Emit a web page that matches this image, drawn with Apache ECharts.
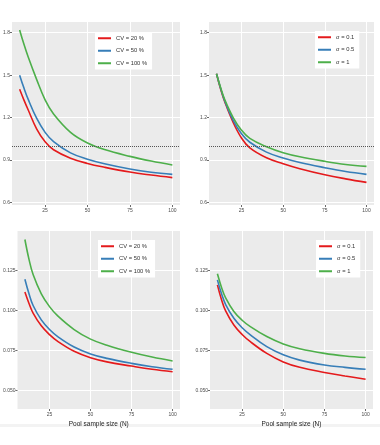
<!DOCTYPE html>
<html><head><meta charset="utf-8">
<script src="https://cdn.jsdelivr.net/npm/echarts@6/dist/echarts.min.js"></script>
<style>html,body{margin:0;padding:0;background:#fff}#c{width:380px;height:445px}</style>
</head><body><div id="c"></div>
<script>
// ---- data ----
const xN = [10, 12.5, 15, 20, 25, 30, 40, 50, 60, 75, 87.5, 100];
const cvNames = ['CV = 20 %', 'CV = 50 %', 'CV = 100 %'];
const sigmaNames = ['σ = 0.1', 'σ = 0.5', 'σ = 1'];

// top-left (CV)
const tlCv20  = [1.40, 1.325, 1.255, 1.12, 1.028, 0.972, 0.912, 0.875, 0.848, 0.814, 0.793, 0.775];
const tlCv50  = [1.50, 1.41, 1.33, 1.195, 1.095, 1.030, 0.950, 0.905, 0.873, 0.836, 0.813, 0.798];
const tlCv100 = [1.82, 1.72, 1.63, 1.47, 1.325, 1.225, 1.095, 1.02, 0.973, 0.925, 0.892, 0.864];
// top-right (sigma)
const trS01 = [1.51, 1.40, 1.31, 1.165, 1.055, 0.985, 0.915, 0.873, 0.838, 0.795, 0.766, 0.741];
const trS05 = [1.51, 1.405, 1.315, 1.18, 1.085, 1.025, 0.955, 0.914, 0.882, 0.845, 0.818, 0.798];
const trS1  = [1.51, 1.41, 1.325, 1.20, 1.11, 1.052, 0.993, 0.951, 0.922, 0.89, 0.868, 0.854];
// bottom-left (CV)
const blCv20  = [0.1116, 0.1045, 0.0985, 0.0905, 0.0850, 0.0808, 0.0746, 0.0706, 0.0680, 0.0654, 0.0634, 0.0618];
const blCv50  = [0.1196, 0.1105, 0.1032, 0.0942, 0.0882, 0.0838, 0.0773, 0.0730, 0.0702, 0.0671, 0.0650, 0.0634];
const blCv100 = [0.1444, 0.1320, 0.1225, 0.1105, 0.1025, 0.0967, 0.0882, 0.0822, 0.0784, 0.0740, 0.0710, 0.0686];
// bottom-right (sigma)
const brS01 = [0.1161, 0.1068, 0.0998, 0.0910, 0.0851, 0.0806, 0.0733, 0.0680, 0.0646, 0.0614, 0.0592, 0.0572];
const brS05 = [0.1192, 0.1105, 0.1038, 0.0952, 0.0893, 0.0849, 0.0775, 0.0724, 0.0691, 0.0661, 0.0646, 0.0634];
const brS1  = [0.1230, 0.1145, 0.1080, 0.0995, 0.0940, 0.0900, 0.0838, 0.0792, 0.0762, 0.0733, 0.0717, 0.0707];

const xTicks = [25, 50, 75, 100];
const topYTicks = [0.6, 0.9, 1.2, 1.5, 1.8];
const botYTicks = [0.050, 0.075, 0.100, 0.125];
const refLine = 1.0;
const xTitle = 'Pool sample size (N)';

// ---- chart ----
const colors = ['#e41a1c', '#377eb8', '#4daf4a'];
const FONT = 'Liberation Sans';
const chart = echarts.init(document.getElementById('c'), null, {renderer: 'canvas'});

const grids = [
  {left: 12, top: 22, width: 168, height: 183},
  {left: 209, top: 22, width: 165, height: 183},
  {left: 16, top: 231, width: 164, height: 178},
  {left: 210, top: 231, width: 163, height: 178}
].map(g => Object.assign(g, {show: true, backgroundColor: '#ebebeb', borderWidth: 0, containLabel: false}));

function xAxis(i, withTitle) {
  return {
    type: 'value', gridIndex: i, min: 5.5, max: 104.5,
    axisLine: {show: false},
    axisTick: {show: true, length: 2, customValues: xTicks, lineStyle: {color: '#444', width: 0.8}},
    axisLabel: {customValues: xTicks, fontSize: 5, color: '#4d4d4d', margin: 3, fontFamily: FONT},
    splitLine: {show: true, lineStyle: {color: '#ffffff', width: 1}},
    name: withTitle ? xTitle : '',
    nameLocation: 'middle', nameGap: 12,
    nameTextStyle: {fontSize: 6.5, color: '#222', fontFamily: FONT}
  };
}
function yAxis(i, ticks, min, max, dec) {
  return {
    type: 'value', gridIndex: i, min: min, max: max,
    axisLine: {show: false},
    axisTick: {show: true, length: 2, customValues: ticks, lineStyle: {color: '#444', width: 0.8}},
    axisLabel: {customValues: ticks, fontSize: 5, color: '#4d4d4d', margin: 2, fontFamily: FONT,
      formatter: v => Number(v).toFixed(dec)},
    splitLine: {show: true, lineStyle: {color: '#ffffff', width: 1}}
  };
}

function mkSeries(name, arr, idx, color, withRef) {
  const s = {
    type: 'line', name: name, xAxisIndex: idx, yAxisIndex: idx,
    data: xN.map((x, i) => [x, arr[i]]),
    smooth: 0.4, showSymbol: false, symbol: 'none',
    lineStyle: {width: 1.6, color: color}, itemStyle: {color: color},
    z: 3
  };
  if (withRef) {
    s.markLine = {
      silent: true, symbol: 'none', animation: false,
      label: {show: false},
      lineStyle: {type: 'dotted', color: '#555', width: 1},
      data: [{yAxis: refLine}]
    };
  }
  return s;
}

function legend(left, top, names) {
  return {
    left: left, top: top, orient: 'vertical', data: names,
    backgroundColor: '#ffffff', padding: [3, 5, 3, 3],
    itemWidth: 13, itemHeight: 2, itemGap: 6, icon: 'rect',
    textStyle: {fontSize: 5.8, color: '#333', fontFamily: FONT, lineHeight: 6.5},
    selectedMode: false
  };
}

const series = [
  mkSeries(cvNames[0], tlCv20, 0, colors[0], true),
  mkSeries(cvNames[1], tlCv50, 0, colors[1]),
  mkSeries(cvNames[2], tlCv100, 0, colors[2]),
  mkSeries(sigmaNames[0], trS01, 1, colors[0], true),
  mkSeries(sigmaNames[1], trS05, 1, colors[1]),
  mkSeries(sigmaNames[2], trS1, 1, colors[2]),
  mkSeries(cvNames[0], blCv20, 2, colors[0]),
  mkSeries(cvNames[1], blCv50, 2, colors[1]),
  mkSeries(cvNames[2], blCv100, 2, colors[2]),
  mkSeries(sigmaNames[0], brS01, 3, colors[0]),
  mkSeries(sigmaNames[1], brS05, 3, colors[1]),
  mkSeries(sigmaNames[2], brS1, 3, colors[2])
];

chart.setOption({
  animation: false,
  backgroundColor: '#ffffff',
  grid: grids,
  xAxis: [xAxis(0, false), xAxis(1, false), xAxis(2, true), xAxis(3, true)],
  yAxis: [
    yAxis(0, topYTicks, 0.581, 1.876, 1),
    yAxis(1, topYTicks, 0.581, 1.876, 1),
    yAxis(2, botYTicks, 0.0386, 0.1497, 3),
    yAxis(3, botYTicks, 0.0386, 0.1497, 3)
  ],
  legend: [
    legend(95, 32, cvNames),
    legend(315, 31, sigmaNames),
    legend(98, 240, cvNames),
    legend(316, 240, sigmaNames)
  ],
  graphic: [{type: 'rect', shape: {x: 0, y: 424, width: 380, height: 3}, style: {fill: '#f3f3f3'}, silent: true}],
  series: series
});
</script>
</body></html>
